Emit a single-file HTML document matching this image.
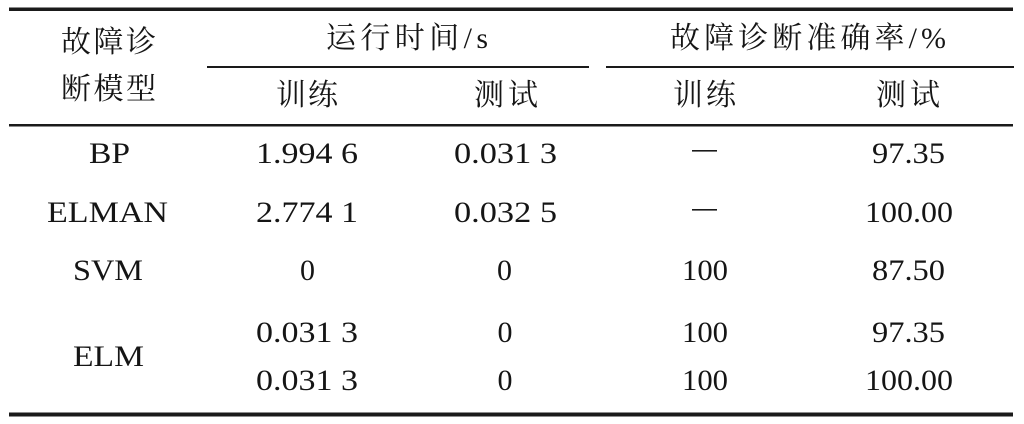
<!DOCTYPE html>
<html>
<head>
<meta charset="utf-8">
<style>
  html, body { margin: 0; padding: 0; background: #ffffff; }
  svg { display: block; }
  .cjk { font-family: "Liberation Serif", "Noto Serif CJK SC", "Noto Serif CJK", "Noto Serif SC", "Noto Serif CJK JP", serif; font-size: 30px; fill: #151515; }
  .num { font-family: "Liberation Serif", serif; font-size: 30px; fill: #151515; }
</style>
</head>
<body>
<svg width="1024" height="424" viewBox="0 0 1024 424" xmlns="http://www.w3.org/2000/svg">
  <rect x="0" y="0" width="1024" height="424" fill="#ffffff"/>

  <!-- rules -->
  <rect x="9" y="7.5" width="1004" height="3.5" fill="#1a1a1a"/>
  <rect x="207" y="66" width="382" height="2" fill="#1a1a1a"/>
  <rect x="606" y="66" width="408" height="2" fill="#1a1a1a"/>
  <rect x="9" y="124" width="1004" height="2.5" fill="#1a1a1a"/>
  <rect x="9" y="412.5" width="1004" height="4" fill="#1a1a1a"/>

  <!-- header -->
  <text class="cjk" x="61" y="52" textLength="95" lengthAdjust="spacing">故障诊</text>
  <text class="cjk" x="61" y="99" textLength="95" lengthAdjust="spacing">断模型</text>
  <text class="cjk" x="326" y="48" textLength="162" lengthAdjust="spacing">运行时间/s</text>
  <text class="cjk" x="670" y="48" textLength="276" lengthAdjust="spacing">故障诊断准确率/%</text>
  <text class="cjk" x="276" y="105" textLength="62" lengthAdjust="spacing">训练</text>
  <text class="cjk" x="474" y="105" textLength="64" lengthAdjust="spacing">测试</text>
  <text class="cjk" x="673" y="105" textLength="63" lengthAdjust="spacing">训练</text>
  <text class="cjk" x="876" y="105" textLength="64" lengthAdjust="spacing">测试</text>

  <!-- row BP -->
  <text class="num" x="89" y="163" textLength="41" lengthAdjust="spacingAndGlyphs">BP</text>
  <text class="num" x="256" y="163" textLength="102" lengthAdjust="spacingAndGlyphs">1.994 6</text>
  <text class="num" x="454" y="163" textLength="103" lengthAdjust="spacingAndGlyphs">0.031 3</text>
  <rect x="692" y="150" width="25" height="1.6" fill="#1a1a1a"/>
  <text class="num" x="872" y="163" textLength="73" lengthAdjust="spacingAndGlyphs">97.35</text>

  <!-- row ELMAN -->
  <text class="num" x="47" y="222" textLength="121" lengthAdjust="spacingAndGlyphs">ELMAN</text>
  <text class="num" x="256" y="222" textLength="102" lengthAdjust="spacingAndGlyphs">2.774 1</text>
  <text class="num" x="454" y="222" textLength="103" lengthAdjust="spacingAndGlyphs">0.032 5</text>
  <rect x="692" y="209" width="25" height="1.6" fill="#1a1a1a"/>
  <text class="num" x="865" y="222" textLength="88" lengthAdjust="spacingAndGlyphs">100.00</text>

  <!-- row SVM -->
  <text class="num" x="73" y="280" textLength="70" lengthAdjust="spacingAndGlyphs">SVM</text>
  <text class="num" x="307.5" y="280" text-anchor="middle">0</text>
  <text class="num" x="504.5" y="280" text-anchor="middle">0</text>
  <text class="num" x="682" y="280" textLength="46" lengthAdjust="spacingAndGlyphs">100</text>
  <text class="num" x="872" y="280" textLength="73" lengthAdjust="spacingAndGlyphs">87.50</text>

  <!-- row ELM -->
  <text class="num" x="73" y="366" textLength="71" lengthAdjust="spacingAndGlyphs">ELM</text>
  <text class="num" x="256" y="342" textLength="102" lengthAdjust="spacingAndGlyphs">0.031 3</text>
  <text class="num" x="505" y="342" text-anchor="middle">0</text>
  <text class="num" x="682" y="342" textLength="46" lengthAdjust="spacingAndGlyphs">100</text>
  <text class="num" x="872" y="342" textLength="73" lengthAdjust="spacingAndGlyphs">97.35</text>

  <text class="num" x="256" y="390" textLength="102" lengthAdjust="spacingAndGlyphs">0.031 3</text>
  <text class="num" x="505" y="390" text-anchor="middle">0</text>
  <text class="num" x="682" y="390" textLength="46" lengthAdjust="spacingAndGlyphs">100</text>
  <text class="num" x="865" y="390" textLength="88" lengthAdjust="spacingAndGlyphs">100.00</text>
</svg>
</body>
</html>
